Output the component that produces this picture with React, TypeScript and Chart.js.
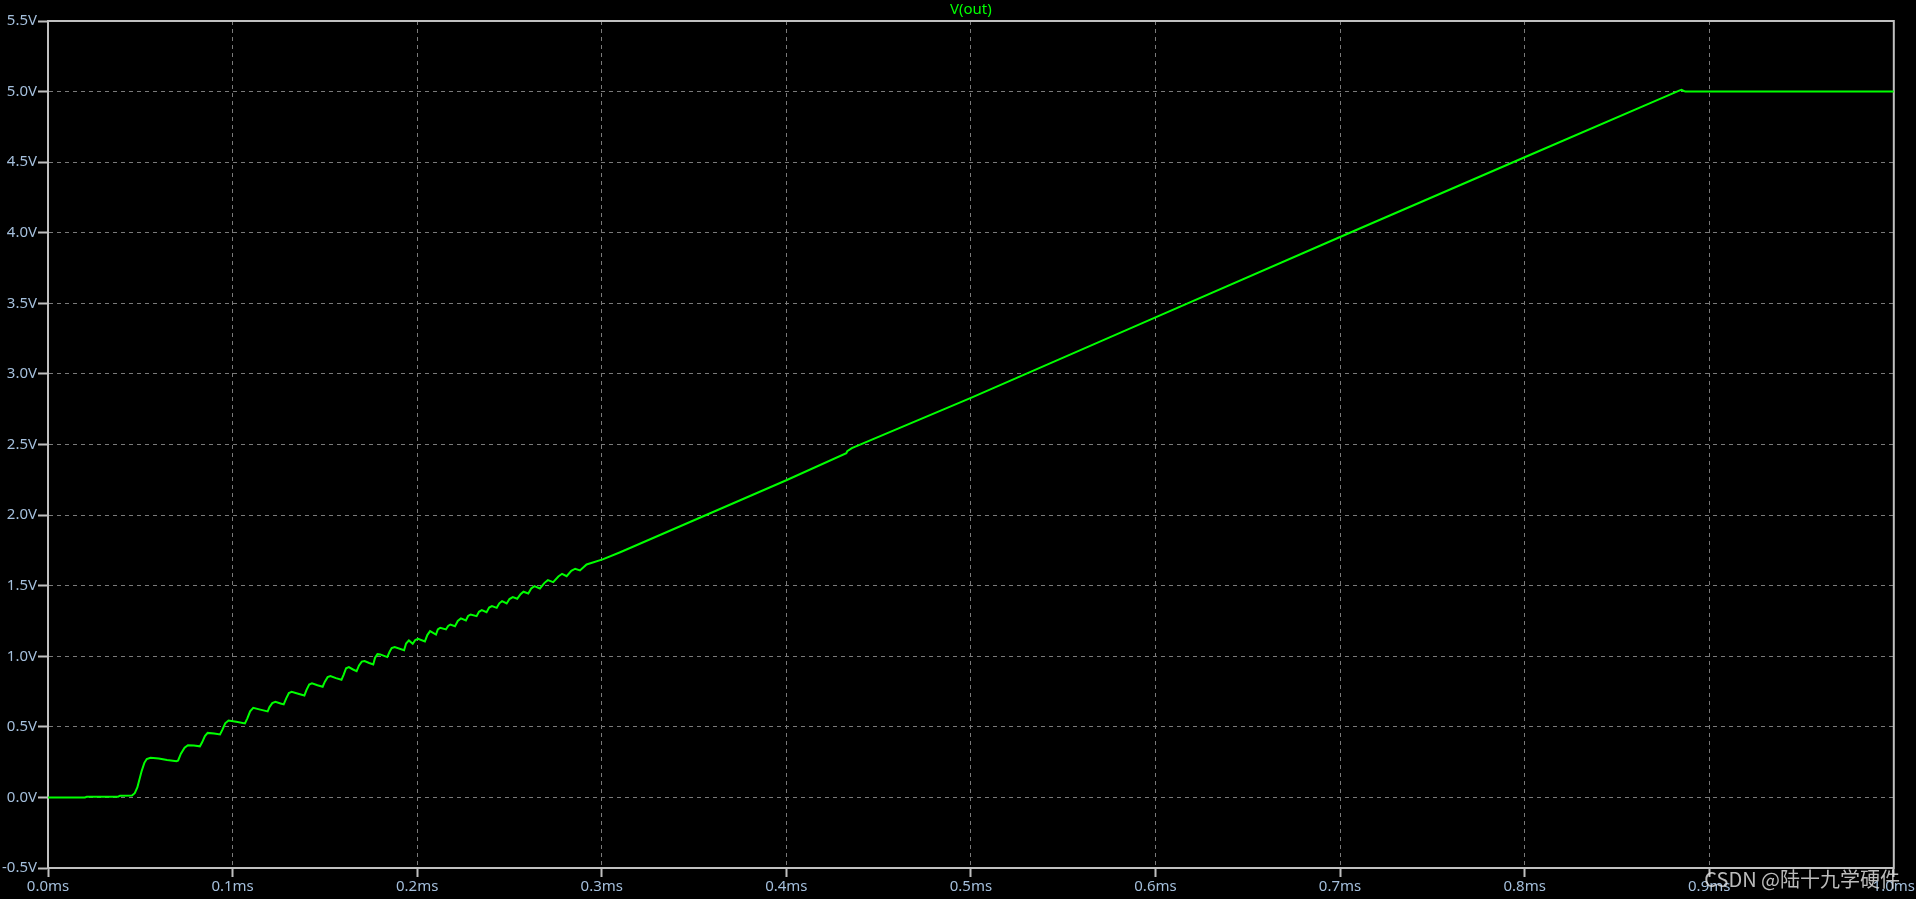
import React, { useEffect, useRef } from "react";
import { Chart, registerables } from "chart.js";

Chart.register(...registerables);

const timeMs: number[] = [
  0, 0.02, 0.021, 0.038, 0.039, 0.0455, 0.047, 0.0484, 0.0507, 0.0522, 0.0535, 0.0555, 0.06, 0.0645, 0.0697,
  0.0705, 0.072, 0.074, 0.0758, 0.079, 0.0823, 0.0835, 0.085, 0.0865, 0.09, 0.0932, 0.0945, 0.096, 0.0978,
  0.102, 0.1067, 0.108, 0.1095, 0.1112, 0.115, 0.119, 0.12, 0.1215, 0.1232, 0.126, 0.1277, 0.129, 0.1305,
  0.132, 0.136, 0.1389, 0.14, 0.1415, 0.143, 0.146, 0.1488, 0.15, 0.1515, 0.153, 0.156, 0.159, 0.1602,
  0.1615, 0.163, 0.165, 0.1672, 0.1685, 0.17, 0.1715, 0.174, 0.1762, 0.1772, 0.1785, 0.18, 0.1838, 0.185,
  0.1862, 0.1878, 0.1929, 0.194, 0.1955, 0.1976, 0.199, 0.2005, 0.2042, 0.2055, 0.207, 0.2102, 0.2112,
  0.2125, 0.2156, 0.2168, 0.218, 0.2205, 0.222, 0.2237, 0.2264, 0.2276, 0.229, 0.2322, 0.2335, 0.235,
  0.2376, 0.239, 0.2405, 0.2431, 0.2445, 0.246, 0.2485, 0.25, 0.2518, 0.2542, 0.256, 0.2576, 0.2602,
  0.2618, 0.2635, 0.2665, 0.269, 0.2708, 0.2737, 0.2765, 0.2785, 0.281, 0.2835, 0.2856, 0.2882, 0.2918,
  0.3005, 0.31, 0.4, 0.4325, 0.433, 0.4355, 0.5, 0.6, 0.7, 0.8, 0.8837, 0.885, 0.887, 1.0,
];

const vOut: number[] = [
  0, 0, 0.004, 0.005, 0.012, 0.014, 0.03, 0.07, 0.186, 0.245, 0.272, 0.281, 0.276, 0.265, 0.257,
  0.262, 0.31, 0.352, 0.37, 0.367, 0.362, 0.39, 0.435, 0.457, 0.452, 0.446, 0.48, 0.525, 0.545,
  0.536, 0.524, 0.56, 0.61, 0.635, 0.622, 0.609, 0.64, 0.668, 0.677, 0.665, 0.659, 0.7, 0.74,
  0.748, 0.733, 0.722, 0.76, 0.8, 0.808, 0.795, 0.784, 0.82, 0.852, 0.86, 0.845, 0.833, 0.87,
  0.915, 0.923, 0.908, 0.895, 0.935, 0.962, 0.966, 0.952, 0.942, 0.99, 1.015, 1.013, 0.994, 1.03,
  1.058, 1.065, 1.043, 1.09, 1.112, 1.088, 1.115, 1.124, 1.105, 1.15, 1.178, 1.154, 1.19,
  1.202, 1.19, 1.215, 1.225, 1.213, 1.25, 1.268, 1.254, 1.285, 1.296, 1.284, 1.315, 1.327,
  1.312, 1.345, 1.355, 1.343, 1.375, 1.39, 1.374, 1.405, 1.419, 1.407, 1.44, 1.457, 1.445,
  1.48, 1.497, 1.48, 1.52, 1.539, 1.525, 1.565, 1.584, 1.567, 1.605, 1.62, 1.608, 1.65,
  1.686, 1.737, 2.247, 2.438, 2.452, 2.474, 2.83, 3.4, 3.97, 4.535, 5.007, 5.012, 5.0, 5.0,
];

const traceName = "V(out)";
const watermark = "CSDN @陆十九学硬件";
const xTickUnit = "ms";
const yTickUnit = "V";

const FONT = "'Noto Sans', 'DejaVu Sans', sans-serif";
const TICK_COLOR = "#a4bfdc";
const AXIS_COLOR = "#c0c0c0";
const GRID_COLOR = "#7a7a7a";
const TRACE_COLOR = "#00ff00";

export default function App() {
  const ref = useRef<HTMLCanvasElement | null>(null);

  useEffect(() => {
    document.body.style.margin = "0";
    document.body.style.background = "#000";
    const canvas = ref.current;
    if (!canvas) return;

    const overlay = {
      id: "overlay",
      beforeDatasetsDraw(chart: any) {
        const { ctx, chartArea } = chart;
        ctx.save();
        ctx.strokeStyle = AXIS_COLOR;
        ctx.lineWidth = 2;
        ctx.strokeRect(chartArea.left, chartArea.top, chartArea.right - chartArea.left, chartArea.bottom - chartArea.top);
        ctx.restore();
      },
      afterDraw(chart: any) {
        const { ctx, chartArea } = chart;
        ctx.save();
        ctx.fillStyle = TRACE_COLOR;
        ctx.font = `15px ${FONT}`;
        ctx.textAlign = "center";
        ctx.textBaseline = "middle";
        ctx.fillText(traceName, (chartArea.left + chartArea.right) / 2, 10);
        ctx.fillStyle = "rgba(220,220,220,0.85)";
        ctx.font = `20px 'Noto Sans CJK SC', ${FONT}`;
        ctx.textAlign = "right";
        ctx.textBaseline = "middle";
        ctx.fillText(watermark, 1900, 879);
        ctx.restore();
      },
    };

    const chart = new Chart(canvas, {
      type: "line",
      data: {
        datasets: [
          {
            label: traceName,
            data: timeMs.map((t, i) => ({ x: t, y: vOut[i] })),
            borderColor: TRACE_COLOR,
            borderWidth: 2,
            pointRadius: 0,
            tension: 0,
            fill: false,
          },
        ],
      },
      options: {
        animation: false,
        responsive: false,
        layout: { padding: { top: 21, right: 22, left: 0, bottom: 0 } },
        plugins: { legend: { display: false }, title: { display: false }, tooltip: { enabled: false } },
        scales: {
          x: {
            type: "linear",
            min: 0,
            max: 1,
            afterFit: (s: any) => {
              s.height = 31;
            },
            ticks: {
              stepSize: 0.1,
              color: TICK_COLOR,
              font: { family: FONT, size: 15 },
              padding: 1,
              maxRotation: 0,
              autoSkip: false,
              callback: (v: any) => `${Number(v).toFixed(1)}${xTickUnit}`,
            },
            grid: {
              color: GRID_COLOR,
              lineWidth: 1,
              tickLength: 9,
              tickColor: AXIS_COLOR,
              tickWidth: 2,
            },
            border: { color: AXIS_COLOR, width: 2, dash: [4, 4] },
          },
          y: {
            type: "linear",
            min: -0.5,
            max: 5.5,
            afterFit: (s: any) => {
              s.width = 48;
            },
            ticks: {
              stepSize: 0.5,
              color: TICK_COLOR,
              font: { family: FONT, size: 15 },
              padding: 1,
              autoSkip: false,
              callback: (v: any) => `${Number(v).toFixed(1)}${yTickUnit}`,
            },
            grid: {
              color: GRID_COLOR,
              lineWidth: 1,
              tickLength: 10,
              tickColor: AXIS_COLOR,
              tickWidth: 2,
            },
            border: { color: AXIS_COLOR, width: 2, dash: [4, 4] },
          },
        },
      },
      plugins: [overlay],
    });
    return () => chart.destroy();
  }, []);

  return (
    <div style={{ position: "fixed", left: 0, top: 0, width: 1916, height: 899, background: "#000" }}>
      <canvas ref={ref} width={1916} height={899} style={{ display: "block", width: 1916, height: 899 }} />
    </div>
  );
}
